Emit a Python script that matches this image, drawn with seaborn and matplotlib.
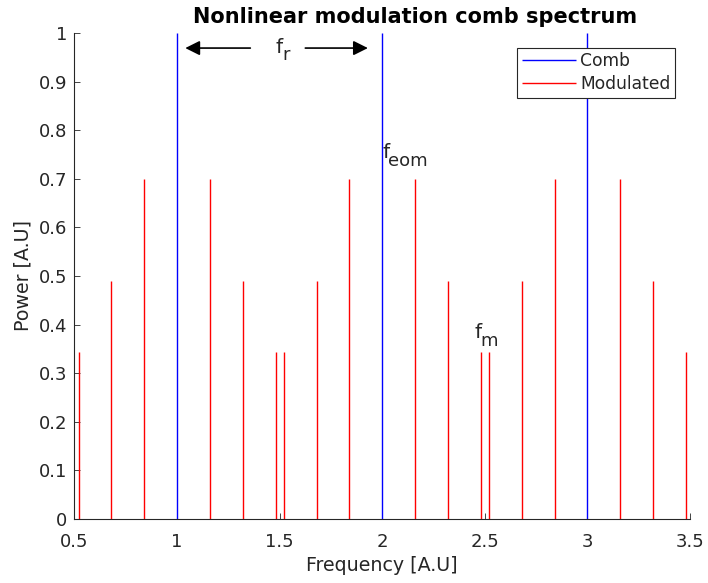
import matplotlib
matplotlib.use("Agg")
import matplotlib.pyplot as plt
import seaborn as sns
import pandas as pd

# Carrier comb lines (repetition rate f_r = 1)
comb_freqs = [1.0, 2.0, 3.0]
comb_power = [1.0, 1.0, 1.0]

# Sidebands from nonlinear modulation at f_m = 0.16 around each comb line
mod_freqs = [0.52, 0.68, 0.84, 1.16, 1.32, 1.48,
             1.52, 1.68, 1.84, 2.16, 2.32, 2.48,
             2.52, 2.68, 2.84, 3.16, 3.32, 3.48]
mod_power = [0.343, 0.49, 0.70, 0.70, 0.49, 0.343,
             0.343, 0.49, 0.70, 0.70, 0.49, 0.343,
             0.343, 0.49, 0.70, 0.70, 0.49, 0.343]

x_ticks = [0.5, 1, 1.5, 2, 2.5, 3, 3.5]
x_tick_labels = ["0.5", "1", "1.5", "2", "2.5", "3", "3.5"]
y_ticks = [0, 0.1, 0.2, 0.3, 0.4, 0.5, 0.6, 0.7, 0.8, 0.9, 1]
y_tick_labels = ["0", "0.1", "0.2", "0.3", "0.4", "0.5", "0.6", "0.7", "0.8", "0.9", "1"]

comb = pd.DataFrame({"freq": comb_freqs, "power": comb_power})
mod = pd.DataFrame({"freq": mod_freqs, "power": mod_power})

sns.set_theme(style="ticks")
plt.rcParams["font.family"] = ["DejaVu Sans"]
txt = "#262626"

fig = plt.figure(figsize=(7.08, 5.83), dpi=100)
ax = fig.add_axes([0.1052, 0.1098, 0.9746 - 0.1052, 0.9434 - 0.1098])

ax.vlines(comb["freq"], 0, comb["power"], color=(0, 0, 1), lw=1.0, label="Comb")
ax.vlines(mod["freq"], 0, mod["power"], color=(1, 0, 0), lw=1.0, label="Modulated")

ax.set_xlim(0.5, 3.5)
ax.set_ylim(0, 1)
ax.set_xticks(x_ticks, x_tick_labels)
ax.set_yticks(y_ticks, y_tick_labels)
ax.tick_params(direction="in", length=4.3, width=0.6, colors=txt, labelsize=13)
ax.tick_params(axis="x", pad=10)
ax.tick_params(axis="y", pad=5)
sns.despine(ax=ax)
for s in ("left", "bottom"):
    ax.spines[s].set_color(txt)
    ax.spines[s].set_linewidth(0.8)

ax.set_xlabel("Frequency [A.U]", fontsize=13.7, color=txt, labelpad=4)
ax.set_ylabel("Power [A.U]", fontsize=13.7, color=txt, labelpad=5)
fig.text(0.586, 0.970, "Nonlinear modulation comb spectrum", ha="center", va="center",
         fontsize=15, fontweight="bold", color="black")

# f_r spacing arrows between adjacent comb lines
arrow = dict(arrowstyle="-|>", color="black", lw=1.2, mutation_scale=22, shrinkA=0, shrinkB=0)
ax.annotate("", xy=(1.04, 0.969), xytext=(1.357, 0.969), arrowprops=arrow)
ax.annotate("", xy=(1.93, 0.969), xytext=(1.625, 0.969), arrowprops=arrow)


def sub_label(x, y, sub):
    """Upright 'f' with a near full-size subscript below its baseline."""
    ax.text(x, y, "f", fontsize=14.5, color=txt, va="baseline", ha="left")
    ax.annotate(sub, xy=(x, y), xytext=(4.3, -5.4), textcoords="offset points",
                fontsize=13, color=txt, va="baseline", ha="left")


sub_label(1.482, 0.959, "r")
sub_label(2.0, 0.742, "eom")
sub_label(2.451, 0.372, "m")

leg = ax.legend(loc="upper right", bbox_to_anchor=(0.9756, 0.969), borderaxespad=0,
                fancybox=False, framealpha=1, edgecolor=txt, fontsize=12.3,
                handlelength=3.2, handletextpad=0.25, borderpad=0.25, labelspacing=0.3)
leg.get_frame().set_linewidth(0.8)
for t in leg.get_texts():
    t.set_color(txt)

fig.savefig("out.png", dpi=100, facecolor="white")
